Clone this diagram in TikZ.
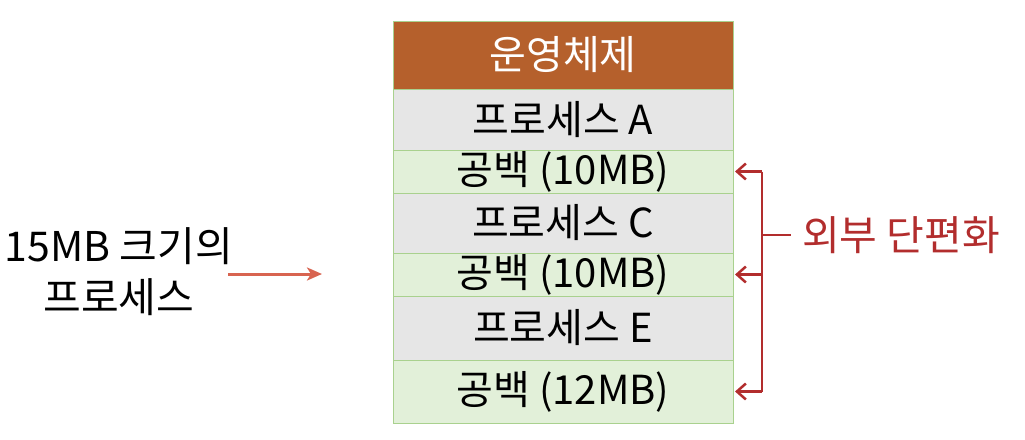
\documentclass[tikz,border=0pt]{standalone}
\usepackage{fontspec}
\setmainfont{Noto Sans CJK KR}
\usetikzlibrary{positioning,arrows.meta}
\definecolor{osbrown}{HTML}{B5602C}
\definecolor{procgray}{HTML}{E6E6E6}
\definecolor{holegreen}{HTML}{E2F0D9}
\definecolor{rowline}{HTML}{A9D18E}
\definecolor{fragred}{HTML}{B22D2D}
\definecolor{inred}{HTML}{D86450}

\begin{document}
\begin{tikzpicture}[x=1pt,y=-1pt,
    row/.style={draw=rowline,line width=1pt,minimum width=340pt,inner sep=0pt,outer sep=0pt,
        font=\fontsize{40}{44}\selectfont},
    osrow/.style={row,fill=osbrown,text=white,minimum height=68pt},
    procrow/.style={row,fill=procgray,minimum height=#1},
    holerow/.style={row,fill=holegreen,minimum height=#1},
    fragline/.style={draw=fragred,line width=2.5pt},
    fragarrow/.style={fragline,-{Straight Barb[length=9pt,width=16pt]}},
    inarrow/.style={draw=inred,line width=3pt,-{Stealth[length=15pt,width=13pt,inset=4pt]}},
    label/.style={font=\fontsize{41}{51}\selectfont,inner sep=0pt}]
    \useasboundingbox (0,0) rectangle (1025,439);
    % memory layout
    \node[osrow,anchor=north] (os) at (563,21) {운영체제};
    \node[procrow=61pt,below=0pt of os] (procA) {프로세스 A};
    \node[holerow=43pt,below=0pt of procA] (hole1) {공백 (10MB)};
    \node[procrow=60pt,below=0pt of hole1] (procC) {프로세스 C};
    \node[holerow=43pt,below=0pt of procC] (hole2) {공백 (10MB)};
    \node[procrow=64pt,below=0pt of hole2] (procE) {프로세스 E};
    \node[holerow=63pt,below=0pt of procE] (hole3) {공백 (12MB)};
    % external fragmentation
    \coordinate (brtop) at ([xshift=29pt]hole1.east);
    \coordinate (brbot) at (brtop |- hole3.east);
    \coordinate (brmid) at (brtop |- 0,235);
    \node[label,text=fragred,anchor=west] (frag) at (802,235) {외부 단편화};
    \draw[fragline] (brtop) -- (brbot);
    \foreach \h in {hole1,hole2,hole3}
        \draw[fragarrow] (brtop |- \h.east) -- ([xshift=2pt]\h.east);
    \draw[fragline,shorten >=11pt] (brmid) -- (frag.west);
    % incoming process
    \node[label,align=center] (incoming) at (119,272) {15MB 크기의\\프로세스};
    \coordinate (inS) at (228,274);
    \coordinate (inE) at (322,274);
    \draw[inarrow] (inS) -- (inE);
\end{tikzpicture}
\end{document}
